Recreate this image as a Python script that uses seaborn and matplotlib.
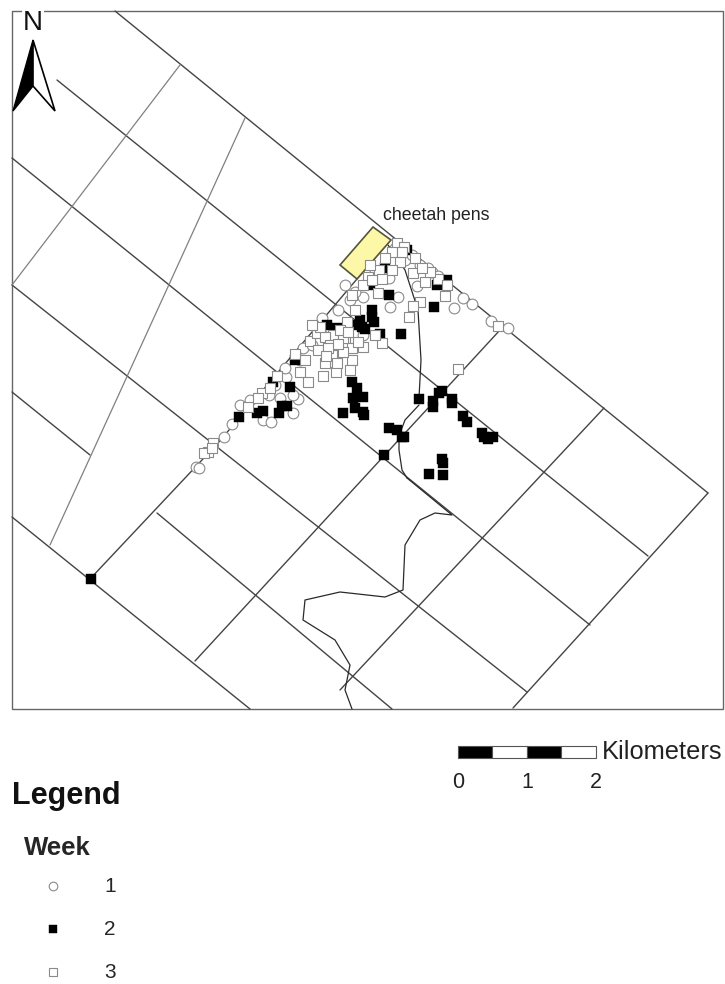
import matplotlib
matplotlib.use('Agg')
import matplotlib.pyplot as plt
from matplotlib.patches import Polygon, Rectangle
import pandas as pd
import seaborn as sns

# 위치 자료 (사진 기준 좌표)
week1_x = [196, 199, 224, 232, 263, 271, 293, 298, 293, 269, 280, 286, 285, 303, 338, 363, 390, 398,
           363, 389, 405, 417, 432, 443, 463, 472, 454, 491, 508, 350, 322, 345, 312, 240, 250, 420,
           355, 375, 395, 412, 428, 438, 330, 300, 275]
week1_y = [467, 468, 437, 424, 420, 422, 413, 399, 395, 395, 398, 377, 368, 348, 310, 297, 307, 297,
           335, 278, 260, 286, 272, 280, 298, 304, 308, 321, 328, 300, 318, 285, 345, 405, 400, 265,
           292, 272, 248, 255, 268, 276, 328, 360, 385]
week2_x = [389, 401, 434, 372, 372, 357, 362, 365, 360, 374, 380, 407, 385, 370, 437, 447,
           239, 257, 263, 279, 282, 287, 273, 290, 295, 343, 327, 337,
           352, 357, 363, 353, 355, 363, 364, 419, 433, 433, 442, 439, 452, 452, 463, 467,
           482, 484, 488, 493, 389, 397, 402, 404, 384, 442, 443, 429, 443, 91]
week2_y = [295, 334, 307, 310, 317, 325, 327, 329, 320, 322, 334, 250, 268, 285, 285, 280,
           417, 413, 411, 413, 406, 406, 382, 387, 360, 413, 325, 328,
           382, 388, 397, 398, 408, 412, 415, 399, 401, 407, 391, 393, 399, 403, 416, 422,
           433, 437, 439, 437, 428, 430, 437, 437, 455, 459, 463, 474, 475, 579]
week3_x = [397, 404, 392, 415, 413, 379, 382, 368, 363, 378, 352, 425, 438, 447, 445, 420, 413, 409,
           498, 458, 382, 375, 363, 345, 352, 333, 342, 352, 332, 347, 430,
           277, 295, 310, 317, 325, 343, 332, 343, 325, 336, 323, 300, 308, 262, 248, 213, 208, 204,
           330, 340, 318, 305, 355, 370, 385, 400, 422,
           348, 358, 338, 328, 320, 312, 350, 337, 326, 372, 392, 402, 258, 270, 212]
week3_y = [243, 247, 252, 258, 273, 270, 279, 277, 285, 293, 295, 282, 279, 285, 296, 302, 306, 317,
           326, 369, 343, 335, 347, 338, 348, 335, 352, 360, 355, 322, 272,
           376, 354, 341, 333, 337, 338, 355, 352, 363, 372, 376, 372, 382, 393, 407, 443, 452, 453,
           345, 330, 350, 360, 310, 265, 258, 262, 268,
           332, 342, 344, 348, 327, 325, 370, 363, 356, 280, 270, 252, 398, 388, 448]

# 도로 / 경계선
main_roads = [
    [(115, 11), (708, 493)],
    [(57, 80), (648, 556)],
    [(12, 158), (590, 625)],
    [(12, 285), (527, 692)],
    [(12, 392), (90, 455)],
    [(157, 513), (392, 709)],
    [(12, 517), (250, 709)],
    [(90, 579), (218, 443), (390, 240)],
    [(195, 661), (500, 330)],
    [(340, 690), (604, 408)],
    [(513, 708), (708, 493)],
]
thin_roads = [
    [(12, 285), (180, 65)],
    [(50, 545), (130, 370), (245, 118)],
]
tracks = [
    [(388, 245), (405, 270), (418, 310), (421, 360), (419, 398)],
    [(419, 405), (405, 420), (399, 436), (399, 450), (402, 470), (407, 478)],
    [(407, 478), (452, 515), (435, 513), (420, 520), (405, 545), (403, 590), (385, 597),
     (340, 592), (305, 600), (303, 620), (335, 640), (350, 665), (345, 690), (352, 709)],
]
pens = [(373, 227), (391, 240), (357, 279), (340, 265)]

scale_km = [0, 0.5, 1, 1.5, 2]
scale_labels = ['0', '1', '2']

sns.set_theme(style='white')
plt.rcParams['font.family'] = ['Liberation Sans', 'DejaVu Sans']

fig, ax = plt.subplots(figsize=(7.25, 9.84), dpi=100)
ax.set_position([0, 0, 1, 1])
ax.set_xlim(0, 725)
ax.set_ylim(984, 0)
ax.axis('off')

# 지도 틀
ax.add_patch(Rectangle((12, 11), 711, 698, fill=False, ec='#666666', lw=1))


def draw_lines(lines, color, lw):
    for i, line in enumerate(lines):
        df = pd.DataFrame(line, columns=['x', 'y'])
        sns.lineplot(data=df, x='x', y='y', sort=False, estimator=None, color=color, lw=lw, ax=ax)


draw_lines(main_roads, '#444444', 1.0)
draw_lines(thin_roads, '#808080', 0.9)
draw_lines(tracks, '#2a2a2a', 0.9)

ax.add_patch(Polygon(pens, closed=True, fc='#fdf8a8', ec='#55553a', lw=1.2, zorder=3))

# 주차별 위치
sns.scatterplot(x=week1_x, y=week1_y, marker='o', s=60, color='white', edgecolor='#8a8a8a',
                linewidth=0.8, ax=ax, label='1', zorder=4)
sns.scatterplot(x=week2_x, y=week2_y, marker='s', s=56, color='black', edgecolor='black',
                linewidth=0.3, ax=ax, label='2', zorder=5)
sns.scatterplot(x=week3_x, y=week3_y, marker='s', s=60, color='white', edgecolor='#8a8a8a',
                linewidth=0.8, ax=ax, label='3', zorder=6)
ax.set_xlabel('')
ax.set_ylabel('')

# 범례
leg = ax.legend(title='Week', loc='upper left', bbox_to_anchor=(24 / 725, 1 - 836 / 984), frameon=False,
                fontsize=15, markerscale=0.8, labelspacing=1.15, handletextpad=1.05,
                borderpad=0, borderaxespad=0, alignment='left', handlelength=2.8)
leg.get_title().set_fontsize(18.5)
leg.get_title().set_fontweight('bold')
leg._legend_box.sep = 12

ax.text(12, 796, 'Legend', fontsize=22, fontweight='bold', va='center', ha='left', color='#111111')
ax.text(383, 215, 'cheetah pens', fontsize=12.8, va='center', ha='left', color='#222222', zorder=7)

# 방위 표시
ax.text(33, 23, 'N', fontsize=20, ha='center', va='center', color='#111111', zorder=7,
        bbox=dict(fc='white', ec='none', pad=0.5))
ax.add_patch(Polygon([(33, 40), (13, 111), (33, 86)], closed=True, fc='black', ec='black', lw=1, zorder=7))
ax.add_patch(Polygon([(33, 40), (55, 111), (33, 86)], closed=True, fc='white', ec='black', lw=1.2, zorder=7))

# 축척
km_px = 69
scale_x0 = 458
for i in range(len(scale_km) - 1):
    x0 = scale_x0 + scale_km[i] * km_px
    w = (scale_km[i + 1] - scale_km[i]) * km_px
    ax.add_patch(Rectangle((x0, 746), w, 12, fc='black' if i % 2 == 0 else 'white', ec='#555555', lw=0.8))
for km, lab in enumerate(scale_labels):
    ax.text(scale_x0 + km * km_px, 782, lab, fontsize=15.5, ha='center', va='center', color='#222222')
ax.text(602, 752, 'Kilometers', fontsize=18.3, ha='left', va='center', color='#222222')

fig.savefig('out.png', dpi=100)
